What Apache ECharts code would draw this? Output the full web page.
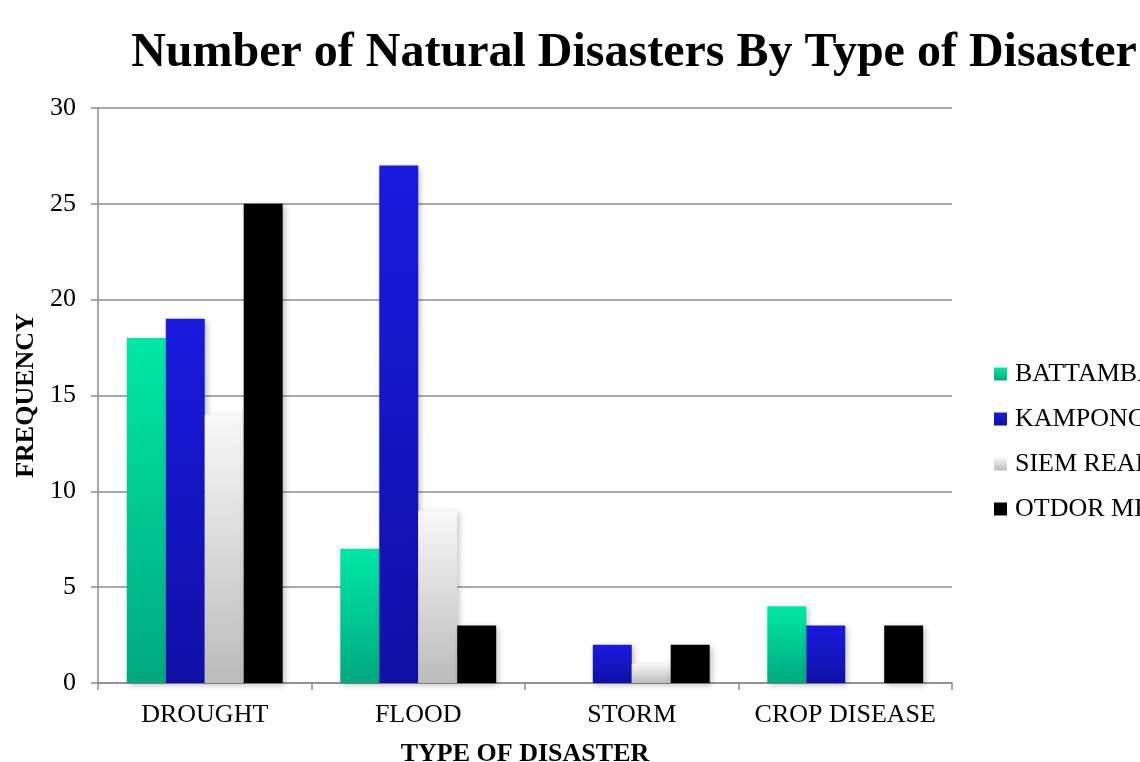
<!DOCTYPE html>
<html><head><meta charset="utf-8">
<script src="https://cdn.jsdelivr.net/npm/echarts@6/dist/echarts.min.js"></script>
<style>html,body{margin:0;padding:0;background:#fff}#c{width:1140px;height:762px}</style>
</head><body><div id="c"></div>
<script>
const categories = ['DROUGHT', 'FLOOD', 'STORM', 'CROP DISEASE'];
const seriesNames = ['BATTAMBANG', 'KAMPONG THOM', 'SIEM REAP', 'OTDOR MEANCHEY'];
const battambang = [18, 7, 0, 4];
const kampong = [19, 27, 2, 3];
const siemReap = [14, 9, 1, 0];
const otdor = [25, 3, 2, 3];
const yTicks = [0, 5, 10, 15, 20, 25, 30];

const font = '"Liberation Serif", "Times New Roman", serif';
function grad(top, bottom) {
  return new echarts.graphic.LinearGradient(0, 0, 0, 1, [{offset: 0, color: top}, {offset: 1, color: bottom}]);
}
const styles = [
  grad('#00E8A6', '#00A97E'),
  grad('#1A1AE0', '#1010A6'),
  grad('#F8F8F8', '#BBBBBB'),
  '#000000'
];
const dataSets = [battambang, kampong, siemReap, otdor];

const chart = echarts.init(document.getElementById('c'), null, {renderer: 'canvas'});
chart.setOption({
  animation: false,
  backgroundColor: '#fff',
  title: {
    text: 'Number of Natural Disasters By Type of Disaster',
    left: 634, textAlign: 'center', top: 30, padding: 0,
    textStyle: {fontFamily: font, fontWeight: 'bold', fontSize: 48, color: '#000'}
  },
  legend: {
    orient: 'vertical', left: 994, top: 361, itemGap: 19, padding: 0,
    itemWidth: 13, itemHeight: 13, icon: 'rect',
    textStyle: {fontFamily: font, fontSize: 26, color: '#000', padding: [0, 0, 0, 3]},
    data: seriesNames
  },
  grid: {left: 98, right: 188, top: 108, bottom: 79, containLabel: false, outerBoundsMode: 'none'},
  xAxis: {
    type: 'category', data: categories,
    name: 'TYPE OF DISASTER', nameLocation: 'middle', nameGap: 58,
    nameTextStyle: {fontFamily: font, fontWeight: 'bold', fontSize: 26, color: '#000'},
    axisLine: {lineStyle: {color: '#8c8c8c', width: 1.5}},
    axisTick: {show: true, length: 7, lineStyle: {color: '#8c8c8c', width: 1.5}},
    axisLabel: {fontFamily: font, fontSize: 26, color: '#000', margin: 19, interval: 0, hideOverlap: false}
  },
  yAxis: {
    type: 'value', min: 0, max: 30, interval: 5,
    name: 'FREQUENCY', nameLocation: 'middle', nameGap: 48, nameRotate: 90,
    nameTextStyle: {fontFamily: font, fontWeight: 'bold', fontSize: 26, color: '#000'},
    axisLine: {show: true, lineStyle: {color: '#8c8c8c', width: 1.5}},
    axisTick: {show: true, length: 7, lineStyle: {color: '#8c8c8c', width: 1.5}},
    splitLine: {lineStyle: {color: '#8c8c8c', width: 1.5}},
    axisLabel: {fontFamily: font, fontSize: 26, color: '#000', margin: 22,
      formatter: v => yTicks.includes(v) ? String(v) : ''}
  },
  series: seriesNames.map((n, i) => ({
    name: n, type: 'bar', data: dataSets[i],
    barGap: '0%', barCategoryGap: '27%',
    itemStyle: {color: styles[i], shadowColor: 'rgba(0,0,0,0.25)', shadowBlur: 6, shadowOffsetX: 2, shadowOffsetY: 2}
  }))
});
</script></body></html>
